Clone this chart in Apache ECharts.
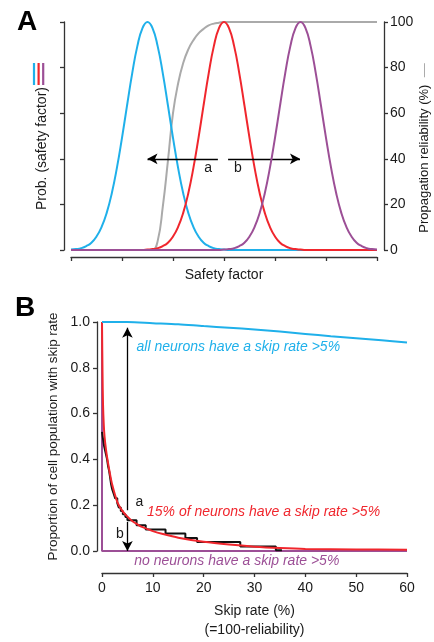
<!DOCTYPE html>
<html><head><meta charset="utf-8">
<script src="https://cdn.jsdelivr.net/npm/echarts@6/dist/echarts.min.js"></script>
<style>html,body{margin:0;padding:0;background:#fff}#c{width:434px;height:642px}</style>
</head><body><div id="c"></div>
<script>
// ---------- Panel A data ----------
const sfX = [0,0.1,0.2,0.3,0.4,0.5,0.6,0.7,0.8,0.9,1.0,1.1,1.2,1.3,1.4,1.5,1.6,1.7,1.8,1.9,2.0,2.1,2.2,2.3,2.4,2.5,2.6,2.7,2.8,2.9,3.0,3.1,3.2,3.3,3.4,3.5,3.6,3.7,3.8,3.9,4.0,4.1,4.2,4.3,4.4,4.5,4.6,4.7,4.8,4.9,5.0,5.1,5.2,5.3,5.4,5.5,5.6,5.7,5.8,5.9,6.0];
const probBlue = [0.2,0.4,0.8,1.7,3.2,5.9,10.1,16.3,24.9,36.0,49.2,63.5,77.5,89.3,97.2,100,97.2,89.3,77.5,63.5,49.2,36.0,24.9,16.3,10.1,5.9,3.2,1.7,0.8,0.4,0.2,0,0,0,0,0,0,0,0,0,0,0,0,0,0,0,0,0,0,0,0,0,0,0,0,0,0,0,0,0,0];
const probRed = [0,0,0,0,0,0,0,0,0,0,0,0,0,0,0,0.2,0.4,0.8,1.7,3.2,5.9,10.1,16.3,24.9,36.0,49.2,63.5,77.5,89.3,97.2,100,97.2,89.3,77.5,63.5,49.2,36.0,24.9,16.3,10.1,5.9,3.2,1.7,0.8,0.4,0.2,0,0,0,0,0,0,0,0,0,0,0,0,0,0,0];
const probPurple = [0,0,0,0,0,0,0,0,0,0,0,0,0,0,0,0,0,0,0,0,0,0,0,0,0,0,0,0,0,0,0.2,0.4,0.8,1.7,3.2,5.9,10.1,16.3,24.9,36.0,49.2,63.5,77.5,89.3,97.2,100,97.2,89.3,77.5,63.5,49.2,36.0,24.9,16.3,10.1,5.9,3.2,1.7,0.8,0.4,0.2];
const reliability = [0,0,0,0,0,0,0,0,0,0,0,0,0,0,0,0,0,4,19,39,60,73,82,88,92,95,97,98.5,99.3,99.7,100,100,100,100,100,100,100,100,100,100,100,100,100,100,100,100,100,100,100,100,100,100,100,100,100,100,100,100,100,100,100];
const relTicks = [0,20,40,60,80,100];

// ---------- Panel B data ----------
const allX = [0,5,10,15,20,25,30,35,40,45,50,55,60];
const allY = [1.0,1.0,0.995,0.99,0.982,0.975,0.967,0.958,0.948,0.938,0.929,0.92,0.91];
const fitX = [0,0.1,0.2,0.35,0.5,0.8,1,1.5,2,3,4,5,6,7,8,10,12,15,20,25,30,35,40,50,60];
const fitY = [1.0,0.78,0.64,0.55,0.5,0.44,0.41,0.345,0.29,0.215,0.175,0.15,0.13,0.116,0.104,0.087,0.074,0.058,0.04,0.028,0.019,0.013,0.009,0.007,0.006];
const stepX = [0,0.2,0.4,0.6,0.8,1.0,1.2,1.4,1.6,1.8,2.0,2.3,2.6,3.0,3.3,3.7,4.1,4.6,5.0,6.8,8.6,12.5,16.4,18.7,27.2,34.2,35.4];
const stepY = [0.52,0.49,0.46,0.44,0.42,0.40,0.37,0.35,0.32,0.29,0.27,0.25,0.23,0.21,0.19,0.175,0.16,0.148,0.134,0.112,0.094,0.076,0.057,0.039,0.02,0.003,0.003];
const noneX = [0,0,60];
const noneY = [1,0,0];

const C = {blue:'#1fb0ea', red:'#f0262d', purple:'#9c4f96', grey:'#aaaaaa', ax:'#333333', txt:'#1a1a1a'};
const FF = '"Liberation Sans", Arial, Helvetica, sans-serif';
const zip = (xs, ys) => xs.map((x, i) => [x, ys[i]]);

const axLine = {show:true, onZero:false, lineStyle:{color:C.ax, width:1.3}};
const axTick = {show:true, length:4, inside:false, lineStyle:{color:C.ax, width:1.3}};

const chart = echarts.init(document.getElementById('c'), null, {renderer:'canvas'});
const arrowLine = {symbol:['none','arrow'], symbolSize:[8,10], silent:true, label:{show:false},
  lineStyle:{color:'#000', width:1.3, type:'solid'}, emphasis:{disabled:true}};

chart.setOption({
  animation:false,
  backgroundColor:'#fff',
  textStyle:{fontFamily:FF},
  grid:[
    {left:71, top:22, width:306, height:228, outerBoundsMode:'none', containLabel:false},
    {left:102, top:322, width:305, height:229, outerBoundsMode:'none', containLabel:false}
  ],
  xAxis:[
    {gridIndex:0, type:'value', min:0, max:6, interval:1, offset:7,
     axisLine:axLine, axisTick:axTick, axisLabel:{show:false}, splitLine:{show:false},
     name:'Safety factor', nameLocation:'middle', nameGap:11, nameMoveOverlap:false,
     nameTextStyle:{fontSize:14, color:C.txt, fontFamily:FF}},
    {gridIndex:1, type:'value', min:0, max:60, interval:10, offset:22,
     axisLine:axLine, axisTick:axTick, splitLine:{show:false},
     axisLabel:{fontSize:14, color:C.txt, margin:8, fontFamily:FF},
     name:'Skip rate (%)\n(=100-reliability)', nameLocation:'middle', nameGap:28, nameMoveOverlap:false,
     nameTextStyle:{fontSize:14, color:C.txt, lineHeight:19.5, fontFamily:FF}}
  ],
  yAxis:[
    {gridIndex:0, type:'value', position:'left', min:0, max:100, interval:20, offset:7,
     axisLine:axLine, axisTick:axTick, axisLabel:{show:false}, splitLine:{show:false},
     name:'Prob. (safety factor)', nameLocation:'middle', nameGap:15, nameMoveOverlap:false,
     nameTextStyle:{fontSize:14, color:C.txt, fontFamily:FF, padding:[0,25,0,0]}},
    {gridIndex:0, type:'value', position:'right', min:0, max:100, interval:20, offset:7,
     axisLine:axLine, axisTick:axTick, splitLine:{show:false},
     axisLabel:{fontSize:14, color:C.txt, margin:6, fontFamily:FF,
       formatter:v => relTicks.includes(v) ? String(v) : ''},
     name:'Propagation reliability (%)  {g|—}', nameLocation:'middle', nameGap:33, nameMoveOverlap:false,
     nameTextStyle:{fontSize:13, color:C.txt, fontFamily:FF, padding:[0,24,0,0],
       rich:{g:{color:C.grey, fontSize:14, fontFamily:FF}}}},
    {gridIndex:1, type:'value', min:0, max:1, interval:0.2, offset:5,
     axisLine:axLine, axisTick:axTick, splitLine:{show:false},
     axisLabel:{fontSize:14, color:C.txt, margin:7, fontFamily:FF, formatter:v => v.toFixed(1)},
     name:'Proportion of cell population with skip rate', nameLocation:'middle', nameGap:37, nameMoveOverlap:false,
     nameTextStyle:{fontSize:13.4, color:C.txt, fontFamily:FF}}
  ],
  series:[
    {type:'line', xAxisIndex:0, yAxisIndex:0, data:zip(sfX, reliability), showSymbol:false,
     smooth:0.5, lineStyle:{color:C.grey, width:2}, z:2},
    {type:'line', xAxisIndex:0, yAxisIndex:0, data:zip(sfX, probBlue), showSymbol:false,
     smooth:0.5, lineStyle:{color:C.blue, width:2}, z:3,
     markLine:Object.assign({data:[
       [{coord:[2.88,40]},{coord:[1.5,40]}],
       [{coord:[3.08,40]},{coord:[4.49,40]}]
     ]}, arrowLine)},
    {type:'line', xAxisIndex:0, yAxisIndex:0, data:zip(sfX, probRed), showSymbol:false,
     smooth:0.5, lineStyle:{color:C.red, width:2}, z:4},
    {type:'line', xAxisIndex:0, yAxisIndex:0, data:zip(sfX, probPurple), showSymbol:false,
     smooth:0.5, lineStyle:{color:C.purple, width:2}, z:5},

    {type:'line', xAxisIndex:1, yAxisIndex:2, data:zip(noneX, noneY), showSymbol:false,
     lineStyle:{color:C.purple, width:2}, z:2},
    {type:'line', xAxisIndex:1, yAxisIndex:2, data:zip(stepX, stepY), showSymbol:false, step:'end',
     lineStyle:{color:'#111', width:2}, z:3},
    {type:'line', xAxisIndex:1, yAxisIndex:2, data:zip(fitX, fitY), showSymbol:false,
     smooth:0.3, lineStyle:{color:C.red, width:2}, z:4},
    {type:'line', xAxisIndex:1, yAxisIndex:2, data:zip(allX, allY), showSymbol:false,
     smooth:0.3, lineStyle:{color:C.blue, width:2}, z:5,
     markLine:Object.assign({data:[
       [{coord:[5,0.178]},{coord:[5,0.975]}],
       [{coord:[5,0.127]},{coord:[5,0.0]}]
     ]}, arrowLine)}
  ]
});

// ---------- annotations positioned from data coordinates ----------
const pA = (x, y) => chart.convertToPixel({gridIndex:0}, [x, y]);
const pB = (x, y) => chart.convertToPixel({gridIndex:1}, [x, y]);
function txt(p, text, opt) {
  return {type:'text', silent:true, z:50, x:p[0], y:p[1],
    style:Object.assign({text:text, fill:C.txt, fontSize:14, fontFamily:FF,
      align:'center', verticalAlign:'middle'}, opt || {})};
}
const annotations = [
  {t:'a', p:pA(2.69,36)},
  {t:'b', p:pA(3.27,36)},
  {t:'a', p:pB(7.35,0.214)},
  {t:'b', p:pB(3.5,0.073)}
];
const italic = [
  {t:'all neurons have a skip rate >5%', p:pB(6.8,0.89), c:C.blue},
  {t:'15% of neurons have a skip rate >5%', p:pB(8.85,0.171), c:C.red},
  {t:'no neurons have a skip rate >5%', p:pB(6.35,-0.044), c:C.purple}
];
const g = [];
annotations.forEach(a => g.push(txt(a.p, a.t)));
italic.forEach(a => g.push(txt(a.p, a.t, {fill:a.c, fontStyle:'italic', align:'left'})));
g.push(txt([17,22.5], 'A', {fontSize:28, fontWeight:'bold', align:'left', fill:'#000'}));
g.push(txt([15,308], 'B', {fontSize:28, fontWeight:'bold', align:'left', fill:'#000'}));
// coloured legend strokes beside the left axis title
[[34,C.blue],[38.6,C.red],[43.2,C.purple]].forEach(([x,c]) => g.push(
  {type:'line', silent:true, z:50, shape:{x1:x, y1:63, x2:x, y2:85}, style:{stroke:c, lineWidth:2.2}}));
chart.setOption({graphic:g});
</script>
</body></html>
